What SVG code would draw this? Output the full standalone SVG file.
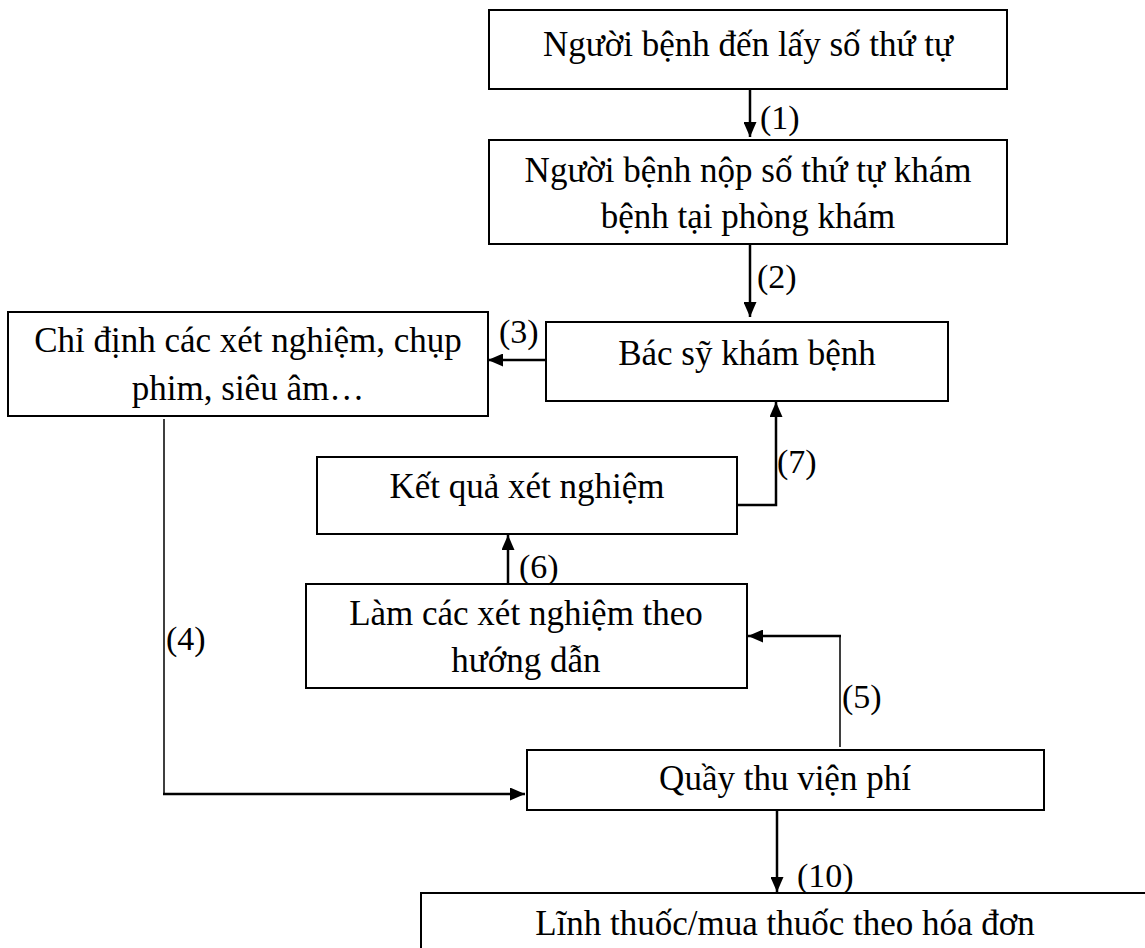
<svg xmlns="http://www.w3.org/2000/svg" width="1145" height="948" viewBox="0 0 1145 948">
<style>
.box{fill:#fff;stroke:#000;stroke-width:2}
.t{font-family:"Liberation Serif","Times New Roman",serif;font-size:35px;fill:#000;text-anchor:middle}
.lb{font-family:"Liberation Serif","Times New Roman",serif;font-size:34px;fill:#000}
.c{fill:none;stroke:#000;stroke-width:2.5}
.c1{fill:none;stroke:#000;stroke-width:1.5}
</style>
<defs>
<marker id="ah" markerUnits="userSpaceOnUse" markerWidth="15" markerHeight="13" refX="15" refY="6.5" orient="auto">
<path d="M0,0 L15,6.5 L0,13 z" fill="#000"/>
</marker>
</defs>
<rect width="1145" height="948" fill="#fff"/>
<g id="n1"><rect class="box" x="489" y="10" width="518" height="79"/><text class="t" x="748" y="56">Người bệnh đến lấy số thứ tự</text></g>
<g id="n2"><rect class="box" x="489" y="140" width="518" height="104"/><text class="t" x="748" y="182">Người bệnh nộp số thứ tự khám</text><text class="t" x="748" y="228">bệnh tại phòng khám</text></g>
<g id="n3"><rect class="box" x="546" y="322" width="402" height="79"/><text class="t" x="747" y="365">Bác sỹ khám bệnh</text></g>
<g id="n4"><rect class="box" x="8" y="312" width="480" height="104"/><text class="t" x="248" y="352">Chỉ định các xét nghiệm, chụp</text><text class="t" x="248" y="400">phim, siêu âm…</text></g>
<g id="n5"><rect class="box" x="317" y="457" width="420" height="77"/><text class="t" x="527" y="498">Kết quả xét nghiệm</text></g>
<g id="n6"><rect class="box" x="306" y="584" width="441" height="104"/><text class="t" x="526" y="625">Làm các xét nghiệm theo</text><text class="t" x="526" y="672">hướng dẫn</text></g>
<g id="n7"><rect class="box" x="527" y="750" width="517" height="60"/><text class="t" x="785" y="790">Quầy thu viện phí</text></g>
<g id="n8"><rect class="box" x="421" y="893" width="800" height="80"/><text class="t" x="785" y="935">Lĩnh thuốc/mua thuốc theo hóa đơn</text></g>
<g id="connectors">
<line class="c" x1="750" y1="89" x2="750" y2="137" marker-end="url(#ah)"/>
<text class="lb" x="760" y="129">(1)</text>
<line class="c" x1="750" y1="244" x2="750" y2="317" marker-end="url(#ah)"/>
<text class="lb" x="757" y="288">(2)</text>
<line class="c" x1="546" y1="360" x2="488" y2="360" marker-end="url(#ah)"/>
<text class="lb" x="499" y="343">(3)</text>
<polyline class="c1" points="164,419 164,794 200,794"/>
<line class="c" x1="163" y1="794" x2="525" y2="794" marker-end="url(#ah)"/>
<text class="lb" x="166" y="650">(4)</text>
<polyline class="c1" points="840,747 840,636 800,636"/>
<line class="c" x1="841" y1="636" x2="748" y2="636" marker-end="url(#ah)"/>
<text class="lb" x="842" y="708">(5)</text>
<line class="c" x1="508" y1="584" x2="508" y2="535" marker-end="url(#ah)"/>
<text class="lb" x="519" y="578">(6)</text>
<polyline class="c" points="737,505 776,505 776,402" marker-end="url(#ah)"/>
<text class="lb" x="777" y="473">(7)</text>
<line class="c" x1="777" y1="810" x2="777" y2="892" marker-end="url(#ah)"/>
<text class="lb" x="797" y="887">(10)</text>
</g>
</svg>
